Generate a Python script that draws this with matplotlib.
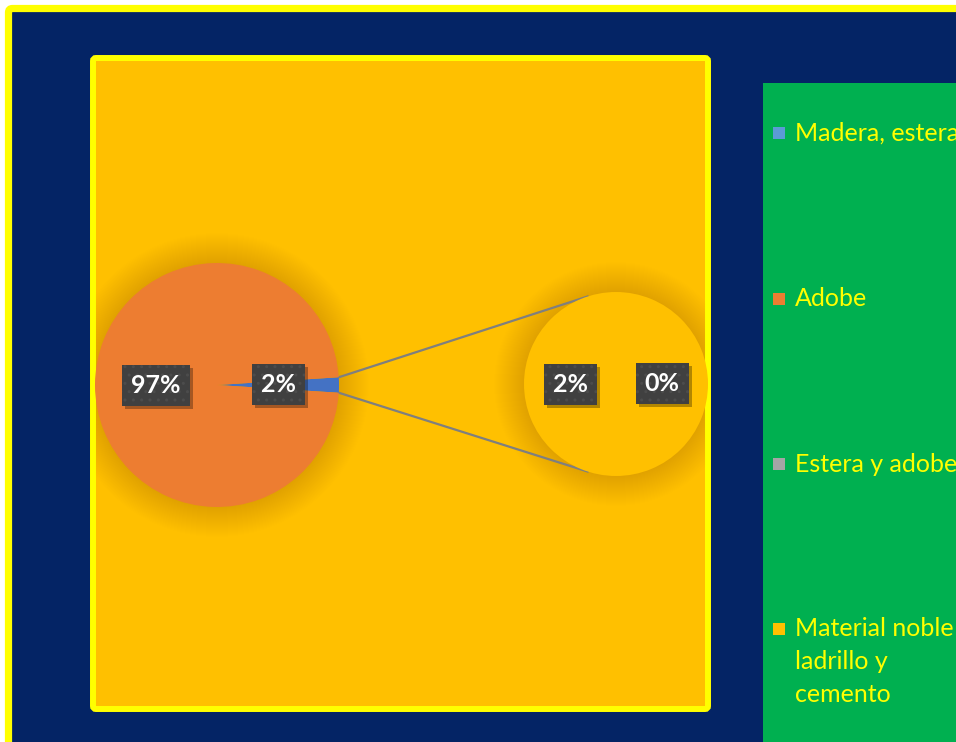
import matplotlib
matplotlib.use("Agg")
import numpy as np
import matplotlib.pyplot as plt
from matplotlib.patches import Rectangle, FancyBboxPatch, Circle
from matplotlib import transforms

W, H = 956, 742

# main pie: the grouped slice goes first so it points right
main_labels = ["Otros", "Adobe"]
main_values = [2, 97]
main_colors = ["#4472C4", "#ED7D31"]

# secondary pie (breakdown of the grouped slice)
sub_labels = ["Material noble ladrillo y cemento", "Estera y adobe"]
sub_values = [2, 0]
sub_colors = ["#FFC000", "#A5A5A5"]

legend_labels = ["Madera, estera", "Adobe", "Estera y adobe",
                 "Material noble\nladrillo y\ncemento"]
legend_colors = ["#5B9BD5", "#ED7D31", "#A5A5A5", "#FFC000"]

NAVY = "#042465"
YELLOW = "#FFFF00"
GOLD = "#FFC000"
GREEN = "#00B050"

MAIN_C, MAIN_R = (217, 385), 122
SUB_C, SUB_R = (616, 384), 92

fig = plt.figure(figsize=(W / 100, H / 100), dpi=100, facecolor="white")

# background in pixel coordinates
bg = fig.add_axes([0, 0, 1, 1])
bg.axis("off")
bg.add_patch(FancyBboxPatch((8.5, 8.5), W + 40, H + 40,
                            boxstyle="round,pad=0,rounding_size=4",
                            fc=NAVY, ec=YELLOW, lw=5.2))
plot_area = FancyBboxPatch((93, 58), 615, 651,
                           boxstyle="round,pad=0,rounding_size=3",
                           fc=GOLD, ec="none")
bg.add_patch(plot_area)
bg.add_patch(Rectangle((763, 83), W, H, fc=GREEN, ec="none"))

# soft shadow round both pies, kept inside the plot area
for (cx, cy), r in ((MAIN_C, MAIN_R), (SUB_C, SUB_R)):
    for k in range(30, 0, -1):
        c = Circle((cx, cy), r + k, fc="black", ec="none", alpha=0.0055)
        bg.add_patch(c)
        c.set_clip_path(plot_area)

# plot area border on top of the shadow
bg.add_patch(FancyBboxPatch((93, 58), 615, 651,
                            boxstyle="round,pad=0,rounding_size=3",
                            fc="none", ec=YELLOW, lw=4.3))

# legend
rows = [133, 299, 464, 629]
for y, lab, col in zip(rows, legend_labels, legend_colors):
    bg.add_patch(Rectangle((773, y - 6), 12, 12, fc=col, ec="none"))
    for i, line in enumerate(lab.split("\n")):
        bg.text(795, y + i * 32.5, line, color=YELLOW, fontsize=18,
                family="Lato", ha="left", va="center")


def pie_axes(c, r):
    return fig.add_axes([(c[0] - r) / W, (H - c[1] - r) / H, 2 * r / W, 2 * r / H])


def data_label(ax, x, y, s):
    shadow = transforms.offset_copy(ax.transData, fig=fig, x=3, y=-3, units="dots")
    kw = dict(ha="center", va="center", fontsize=18, fontweight="bold", family="Lato")
    ax.text(x, y, s, transform=shadow, color="none",
            bbox=dict(boxstyle="square,pad=0.36", fc="black", ec="none", alpha=0.3), **kw)
    ax.text(x, y, s, color="white",
            bbox=dict(boxstyle="square,pad=0.36", fc="#404040", ec="#4c4c4c",
                      lw=0, hatch=".."), **kw)


def draw_pie(ax, values, colors, start):
    wedges, _ = ax.pie(values, colors=colors, startangle=start, radius=1,
                       wedgeprops=dict(linewidth=0))
    ax.set_xlim(-1, 1)
    ax.set_ylim(-1, 1)
    ax.patch.set_alpha(0)
    for w, v in zip(wedges, values):
        a = np.deg2rad((w.theta1 + w.theta2) / 2)
        data_label(ax, 0.5 * np.cos(a), 0.5 * np.sin(a), f"{v}%")
    return wedges


ax1 = pie_axes(MAIN_C, MAIN_R)
main_wedges = draw_pie(ax1, main_values, main_colors,
                       -180 * main_values[0] / sum(main_values))

ax2 = pie_axes(SUB_C, SUB_R)
draw_pie(ax2, sub_values, sub_colors, 0)

# connector lines from the grouped slice to the secondary pie
w = main_wedges[0]
for tm, ts in ((w.theta2, 108), (w.theta1, -108)):
    tm, ts = np.deg2rad(tm), np.deg2rad(ts)
    bg.plot([MAIN_C[0] + MAIN_R * np.cos(tm), SUB_C[0] + SUB_R * np.cos(ts)],
            [MAIN_C[1] - MAIN_R * np.sin(tm), SUB_C[1] - SUB_R * np.sin(ts)],
            color="#7F7F7F", lw=1.6)

bg.set_xlim(0, W)
bg.set_ylim(H, 0)

fig.savefig("out.png", dpi=100, facecolor="white")
